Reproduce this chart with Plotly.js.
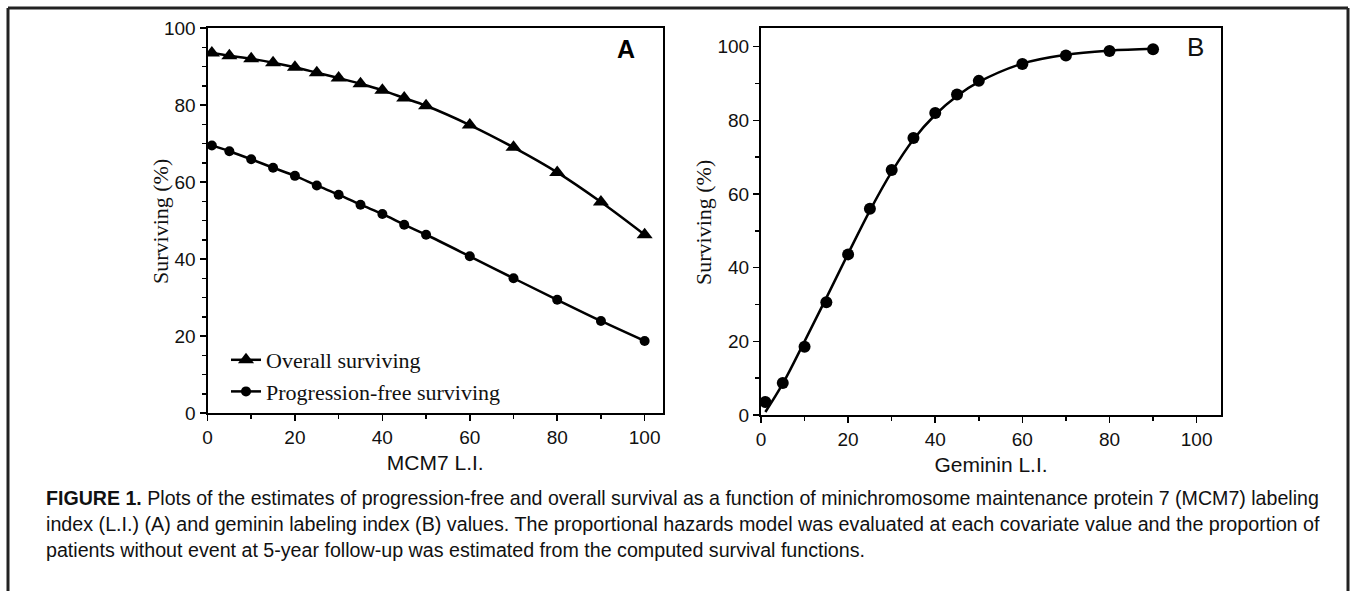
<!DOCTYPE html>
<html>
<head>
<meta charset="utf-8">
<script src="https://cdn.plot.ly/plotly-3.0.1.min.js"></script>
<style>html,body{margin:0;padding:0;background:#fff;}#chart{width:1353px;height:591px;}</style>
</head>
<body>
<div id="chart"></div>
<script>
// Panel A: MCM7 labeling index
var mcm7LI = [1, 5, 10, 15, 20, 25, 30, 35, 40, 45, 50, 60, 70, 80, 90, 100];
var overallSurviving = [93.5, 92.8, 92.0, 91.0, 89.8, 88.4, 87.0, 85.5, 83.8, 81.8, 79.8, 74.8, 69.0, 62.5, 54.8, 46.3];
var progressionFreeSurviving = [69.5, 68.0, 65.9, 63.7, 61.6, 59.1, 56.7, 54.1, 51.7, 48.9, 46.3, 40.7, 35.0, 29.4, 23.9, 18.7];

// Panel B: Geminin labeling index
var gemininLI = [1, 5, 10, 15, 20, 25, 30, 35, 40, 45, 50, 60, 70, 80, 90];
var gemininSurviving = [3.5, 8.7, 18.5, 30.6, 43.6, 56.0, 66.5, 75.2, 82.0, 87.0, 90.7, 95.3, 97.6, 98.8, 99.3];
var gemininFitCurve = [0.8, 8.5, 20.0, 31.8, 43.8, 55.5, 66.0, 74.8, 81.5, 86.6, 90.4, 95.4, 97.8, 98.9, 99.4];

var tickLabels = ['0', '20', '40', '60', '80', '100'];
var tickVals = [0, 20, 40, 60, 80, 100];

var captionLines = [
  '<b>FIGURE 1.</b> Plots of the estimates of progression-free and overall survival as a function of minichromosome maintenance protein 7 (MCM7) labeling',
  'index (L.I.) (A) and geminin labeling index (B) values. The proportional hazards model was evaluated at each covariate value and the proportion of',
  'patients without event at 5-year follow-up was estimated from the computed survival functions.'
];

var W = 1353, H = 591;
function px(x) { return x / W; }
function py(y) { return 1 - y / H; }

var sans = 'Liberation Sans, Arial, Helvetica, sans-serif';
var sansTick = {family: sans, size: 19, color: '#111'};
var serif = 'Liberation Serif, Times New Roman, serif';

var traces = [
  {
    x: mcm7LI, y: overallSurviving, xaxis: 'x', yaxis: 'y',
    type: 'scatter', mode: 'lines+markers', name: 'Overall surviving',
    line: {color: '#000', width: 2.5, shape: 'spline'},
    marker: {symbol: 'triangle-up', size: 14, color: '#000'}
  },
  {
    x: mcm7LI, y: progressionFreeSurviving, xaxis: 'x', yaxis: 'y',
    type: 'scatter', mode: 'lines+markers', name: 'Progression-free surviving',
    line: {color: '#000', width: 2.5, shape: 'spline'},
    marker: {symbol: 'circle', size: 10, color: '#000'}
  },
  {
    x: gemininLI, y: gemininFitCurve, xaxis: 'x2', yaxis: 'y2',
    type: 'scatter', mode: 'lines', showlegend: false,
    line: {color: '#000', width: 2.5, shape: 'spline'}
  },
  {
    x: gemininLI, y: gemininSurviving, xaxis: 'x2', yaxis: 'y2',
    type: 'scatter', mode: 'markers', showlegend: false,
    marker: {symbol: 'circle', size: 12, color: '#000'}
  }
];

function axisCommon(extra) {
  var a = {
    showgrid: false, zeroline: false, showline: true, mirror: true,
    linecolor: '#000', linewidth: 2,
    ticks: 'outside', ticklen: 6, tickwidth: 1.5, tickcolor: '#000',
    tickvals: tickVals, ticktext: tickLabels,
    tickfont: sansTick, fixedrange: true
  };
  for (var k in extra) a[k] = extra[k];
  return a;
}

var layout = {
  width: W, height: H,
  margin: {l: 0, r: 0, t: 0, b: 0},
  paper_bgcolor: '#fff', plot_bgcolor: '#fff',
  showlegend: true,
  legend: {
    x: px(226), y: py(339), xanchor: 'left', yanchor: 'top',
    bgcolor: 'rgba(0,0,0,0)', borderwidth: 0,
    font: {family: serif, size: 22, color: '#111'},
    tracegroupgap: 0, itemwidth: 30
  },
  xaxis: axisCommon({
    domain: [px(207.5), px(663)], range: [0, 104.2], anchor: 'y',
    minor: {dtick: 10, tick0: 0, ticks: 'outside', ticklen: 4, tickwidth: 1.5, tickcolor: '#000'},
    title: {text: 'MCM7 L.I.', font: {family: sans, size: 21, color: '#111'}, standoff: 9}
  }),
  yaxis: axisCommon({
    domain: [py(413), py(28)], range: [0, 100], anchor: 'x',
    minor: {dtick: 5, tick0: 0, ticks: 'outside', ticklen: 4, tickwidth: 1.5, tickcolor: '#000'}
  }),
  xaxis2: axisCommon({
    domain: [px(761), px(1221)], range: [0, 105.6], anchor: 'y2',
    minor: {dtick: 10, tick0: 0, ticks: 'outside', ticklen: 4, tickwidth: 1.5, tickcolor: '#000'},
    title: {text: 'Geminin L.I.', font: {family: sans, size: 21, color: '#111'}, standoff: 9}
  }),
  yaxis2: axisCommon({
    domain: [py(415), py(27.6)], range: [0, 105.16], anchor: 'x2',
    minor: {dtick: 10, tick0: 0, ticks: 'outside', ticklen: 4, tickwidth: 1.5, tickcolor: '#000'}
  }),
  shapes: [
    {type: 'line', xref: 'paper', yref: 'paper', x0: px(8), x1: px(1348), y0: py(8), y1: py(8), line: {color: '#222', width: 3}},
    {type: 'line', xref: 'paper', yref: 'paper', x0: px(8), x1: px(8), y0: py(8), y1: py(600), line: {color: '#222', width: 3}},
    {type: 'line', xref: 'paper', yref: 'paper', x0: px(1348), x1: px(1348), y0: py(8), y1: py(600), line: {color: '#222', width: 3}}
  ],
  annotations: [
    {text: 'Surviving (%)', textangle: -90, xref: 'paper', yref: 'paper', x: px(160), y: py(222),
     xanchor: 'center', yanchor: 'middle', showarrow: false, font: {family: serif, size: 22, color: '#111'}},
    {text: 'Surviving (%)', textangle: -90, xref: 'paper', yref: 'paper', x: px(703), y: py(222),
     xanchor: 'center', yanchor: 'middle', showarrow: false, font: {family: serif, size: 22, color: '#111'}},
    {text: '<b>A</b>', xref: 'paper', yref: 'paper', x: px(626), y: py(49), xanchor: 'center', yanchor: 'middle',
     showarrow: false, font: {family: sans, size: 25, color: '#000'}},
    {text: 'B', xref: 'paper', yref: 'paper', x: px(1195), y: py(47), xanchor: 'center', yanchor: 'middle',
     showarrow: false, font: {family: sans, size: 26, color: '#111'}}
  ]
};

var captionY = [497, 523, 549];
for (var i = 0; i < captionLines.length; i++) {
  layout.annotations.push({
    text: captionLines[i], xref: 'paper', yref: 'paper', x: px(44), y: py(captionY[i]),
    xanchor: 'left', yanchor: 'middle', showarrow: false, align: 'left',
    font: {family: sans, size: 21, color: '#111'}
  });
}

Plotly.newPlot('chart', traces, layout, {displayModeBar: false, staticPlot: true}).then(function () {
  // Condense the caption lines horizontally (the original uses a condensed typeface, lines 1-2 justified)
  var targets = [1274, 1274];
  var nodes = Array.prototype.slice.call(document.querySelectorAll('text.annotation-text'));
  var caps = nodes.filter(function (n) {
    var t = n.textContent;
    return captionLines.some(function (c) { return c.replace(/<[^>]+>/g, '') === t; });
  });
  var ks = [];
  caps.forEach(function (n, idx) {
    var bb = n.getBBox();
    var k = idx < 2 ? targets[idx] / bb.width : (ks[0] + ks[1]) / 2;
    ks.push(k);
    n.setAttribute('transform', 'translate(' + (bb.x * (1 - k)) + ',0) scale(' + k + ',1)');
  });
});
</script>
</body>
</html>
